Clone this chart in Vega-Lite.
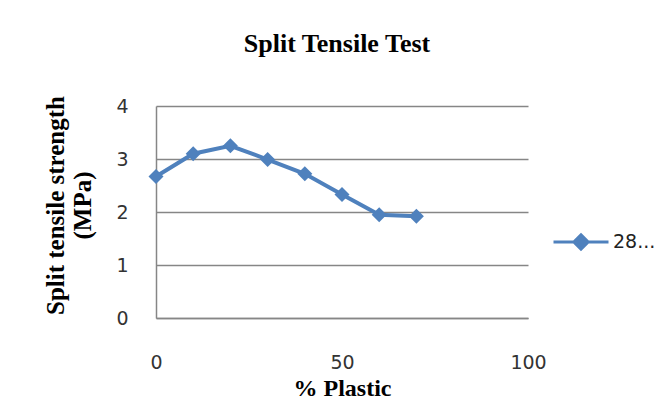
{
  "$schema": "https://vega.github.io/schema/vega-lite/v6.json",
  "width": 372,
  "height": 212,
  "autosize": "none",
  "padding": {"left": 156, "top": 106, "right": 138, "bottom": 82},
  "background": "white",
  "title": {
    "text": "Split Tensile Test",
    "font": "Liberation Serif",
    "fontSize": 26,
    "fontWeight": "bold",
    "color": "#000000",
    "anchor": "middle",
    "frame": "group",
    "dx": -5,
    "offset": 39
  },
  "data": {
    "values": [
      {"plastic": 0, "strength": 2.67, "series": "28..."},
      {"plastic": 10, "strength": 3.1, "series": "28..."},
      {"plastic": 20, "strength": 3.25, "series": "28..."},
      {"plastic": 30, "strength": 2.99, "series": "28..."},
      {"plastic": 40, "strength": 2.72, "series": "28..."},
      {"plastic": 50, "strength": 2.33, "series": "28..."},
      {"plastic": 60, "strength": 1.95, "series": "28..."},
      {"plastic": 70, "strength": 1.92, "series": "28..."}
    ]
  },
  "mark": {
    "type": "line",
    "strokeWidth": 4,
    "point": {"shape": "diamond", "size": 225, "filled": true}
  },
  "encoding": {
    "x": {
      "field": "plastic",
      "type": "quantitative",
      "scale": {"domain": [0, 100], "nice": false},
      "axis": {
        "title": "% Plastic",
        "values": [0, 50, 100],
        "grid": false,
        "ticks": false,
        "labelFlush": false,
        "labelPadding": 35,
        "titleFontSize": 24,
        "titleY": 70,
        "titleBaseline": "middle"
      }
    },
    "y": {
      "field": "strength",
      "type": "quantitative",
      "scale": {"domain": [0, 4], "nice": false},
      "axis": {
        "title": ["Split tensile strength", "(MPa)"],
        "values": [0, 1, 2, 3, 4],
        "grid": true,
        "ticks": false,
        "labelPadding": 28,
        "titleAngle": -90,
        "titleAlign": "center",
        "titleBaseline": "alphabetic",
        "titleX": -93,
        "titleY": 99,
        "titleLineHeight": 27
      }
    },
    "color": {
      "field": "series",
      "type": "nominal",
      "scale": {"range": ["#4F81BD"]},
      "legend": {
        "title": null,
        "orient": "none",
        "legendX": 396,
        "legendY": 107,
        "padding": 0,
        "symbolType": "M-1,0L1,0M0,-0.26L0.26,0L0,0.26L-0.26,0Z",
        "symbolSize": 3025,
        "symbolStrokeWidth": 3,
        "symbolFillColor": "#4F81BD",
        "symbolStrokeColor": "#4F81BD",
        "labelOffset": 3
      }
    }
  },
  "config": {
    "view": {"stroke": null},
    "axis": {
      "domainColor": "#868686",
      "domainWidth": 1.5,
      "gridColor": "#868686",
      "gridWidth": 1.5,
      "labelFont": "DejaVu Sans",
      "labelFontSize": 19,
      "labelColor": "#333333",
      "titleFont": "Liberation Serif",
      "titleFontSize": 25,
      "titleFontWeight": "bold",
      "titleColor": "#000000"
    },
    "legend": {
      "labelFont": "DejaVu Sans",
      "labelFontSize": 19,
      "labelColor": "#222222"
    }
  }
}
